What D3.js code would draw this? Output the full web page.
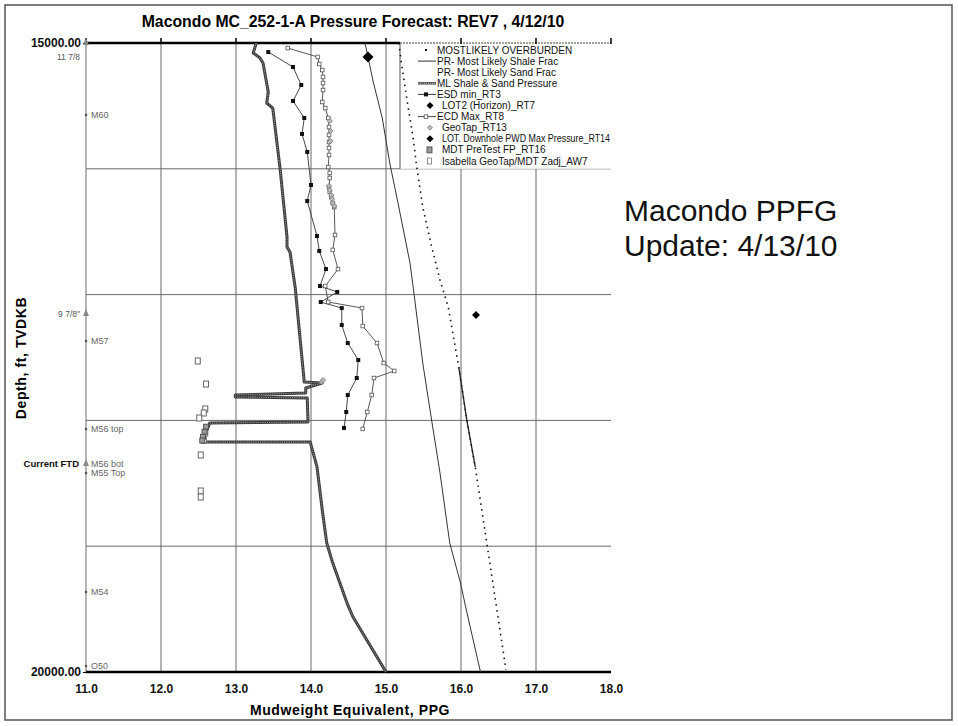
<!DOCTYPE html>
<html><head><meta charset="utf-8">
<script src="https://cdn.jsdelivr.net/npm/d3@7"></script>
<style>
body{margin:0;background:#fff;}
svg{display:block;font-family:"Liberation Sans",Arial,sans-serif;}
</style></head>
<body>
<svg id="c" width="958" height="726"></svg>
<script>
// ---------- DATA ----------
const title = "Macondo MC_252-1-A Pressure Forecast: REV7 , 4/12/10";
const xTicks = [11,12,13,14,15,16,17,18];
const yTicks = [15000,20000];
const yGrid = [16000,17000,18000,19000];

// [ppg, depth]
const overburden = [[15.17,15000],[15.2,15135],[15.28,15453],[15.36,15747],[15.41,15986],[15.49,16304],[15.61,16622],[15.72,16884],[15.83,17099],[15.97,17576],[16.08,18005],[16.19,18370],[16.35,18998],[16.6,19984]];
const shaleFrac = [[14.72,15000],[14.83,15310],[14.95,15596],[15.05,15954],[15.16,16272],[15.32,16749],[15.35,16884],[15.49,17544],[15.61,18005],[15.72,18418],[15.85,18975],[15.99,19285],[16.08,19531],[16.26,20000]];
const sandFrac = [[15.97,17576],[16.08,18005],[16.19,18370]];
const mlPressure = [[13.27,15000],[13.23,15079],[13.32,15119],[13.36,15159],[13.43,15390],[13.41,15477],[13.49,15517],[13.59,16010],[13.68,16542],[13.68,16622],[13.72,16661],[13.79,16948],[13.91,17695],[14.15,17703],[13.93,17742],[13.93,17782],[12.99,17798],[12.99,17814],[13.95,17822],[13.96,18013],[12.65,18021],[12.55,18172],[13.99,18172],[14.08,18370],[14.15,18712],[14.21,18975],[14.29,19134],[14.49,19467],[14.56,19563],[15.0,20000]];
const esdMin = [[13.43,15072],[13.76,15191],[13.87,15334],[13.76,15461],[13.91,15596],[13.88,15723],[13.95,15866],[14.0,16129],[13.95,16256],[14.08,16534],[14.11,16653],[14.2,16797],[14.12,16932],[14.35,16979],[14.13,17059],[14.41,17107],[14.41,17242],[14.49,17385],[14.63,17520],[14.61,17663],[14.49,17798],[14.47,17933],[14.44,18060]];
const lot2 = [[14.76,15111]];
const ecdMax = [[13.69,15040],[14.09,15111],[14.11,15167],[14.15,15215],[14.16,15270],[14.16,15318],[14.16,15374],[14.15,15469],[14.19,15517],[14.23,15596],[14.24,15668],[14.24,15731],[14.24,15787],[14.24,15835],[14.24,15890],[14.23,15986],[14.25,16033],[14.25,16073],[14.24,16145],[14.25,16184],[14.27,16224],[14.29,16272],[14.31,16304],[14.32,16526],[14.29,16645],[14.36,16797],[14.19,16932],[14.23,17059],[14.68,17107],[14.69,17250],[14.88,17385],[14.97,17544],[15.11,17607],[14.84,17663],[14.81,17798],[14.75,17933],[14.69,18068]];
const geoTap = [[14.25,15620],[14.26,15700],[14.26,15780],[14.24,16137],[14.25,16169],[14.27,16208],[14.28,16240],[14.29,16272],[14.31,16296],[14.14,17695],[14.16,17680]];
const lotDownhole = [[16.2,17162]];
const mdtPretest = [[12.6,18050],[12.58,18090],[12.56,18130],[12.55,18160]];
const isabella = [[12.49,17528],[12.6,17711],[12.59,17909],[12.57,17941],[12.51,17981],[12.59,18100],[12.57,18156],[12.53,18275],[12.53,18561],[12.53,18609]];

const formationTops = [["M60",15572],["M57",17369],["M56 top",18068],["M56 bot",18347],["M55 Top",18418],["M54",19364],["O50",19952]];
const casing = [["11 7/8",15000],["9 7/8\"",17154],["Current FTD",18347]];

const legendNames = ["MOSTLIKELY OVERBURDEN","PR- Most Likely Shale Frac","PR- Most Likely Sand Frac","ML Shale & Sand Pressure","ESD min_RT3","LOT2 (Horizon)_RT7","ECD Max_RT8","GeoTap_RT13","LOT. Downhole PWD Max Pressure_RT14","MDT PreTest FP_RT16","Isabella GeoTap/MDT Zadj_AW7"];

// ---------- CHART ----------
const svg = d3.select("#c");
const x = d3.scaleLinear().domain([11,18]).range([86,611]);
const y = d3.scaleLinear().domain([15000,20000]).range([43,672]);

// outer frame
svg.append("rect").attr("x",5).attr("y",5).attr("width",947).attr("height",715)
  .attr("fill","none").attr("stroke","#555").attr("stroke-width",1.5);

// title
svg.append("text").attr("x",353).attr("y",27).attr("text-anchor","middle")
  .attr("font-size",15.8).attr("font-weight","bold").text(title);

// vertical grid
svg.append("g").selectAll("line").data(xTicks.slice(1,-1)).join("line")
  .attr("x1",d=>x(d)).attr("x2",d=>x(d)).attr("y1",y(15000)).attr("y2",y(20000))
  .attr("stroke","#6a6a6a").attr("stroke-width",1);
// horizontal grid
svg.append("g").selectAll("line").data(yGrid).join("line")
  .attr("x1",x(11)).attr("x2",x(18)).attr("y1",d=>y(d)).attr("y2",d=>y(d))
  .attr("stroke","#6a6a6a").attr("stroke-width",1);
// left axis line
svg.append("line").attr("x1",x(11)).attr("x2",x(11)).attr("y1",y(15000)).attr("y2",y(20000))
  .attr("stroke","#6a6a6a");

// legend box (white)
const lgX0 = 400, lgY0 = y(15000), lgX1 = x(18), lgY1 = y(16000);
svg.append("rect").attr("x",lgX0).attr("y",lgY0).attr("width",lgX1-lgX0).attr("height",lgY1-lgY0)
  .attr("fill","#fff");
svg.append("line").attr("x1",lgX0).attr("x2",lgX0).attr("y1",lgY0).attr("y2",lgY1).attr("stroke","#555");

// bottom axis
const xAxis = d3.axisBottom(x).tickValues(xTicks).tickFormat(d3.format(".1f")).tickSize(0).tickPadding(12);
const gx = svg.append("g").attr("transform",`translate(0,${y(20000)})`).call(xAxis);
gx.select(".domain").remove();
gx.selectAll("text").attr("font-size",12).attr("font-weight","bold").attr("fill","#111")
  .attr("font-family","Liberation Sans, Arial, sans-serif");
svg.append("line").attr("x1",x(11)).attr("x2",x(18)).attr("y1",y(20000)).attr("y2",y(20000))
  .attr("stroke","#000").attr("stroke-width",2.5);

// top axis
svg.append("line").attr("x1",x(11)-2).attr("x2",lgX0).attr("y1",y(15000)).attr("y2",y(15000))
  .attr("stroke","#000").attr("stroke-width",2.5);
svg.append("line").attr("x1",lgX0).attr("x2",x(18)).attr("y1",y(15000)).attr("y2",y(15000))
  .attr("stroke","#444").attr("stroke-width",1.2).attr("stroke-dasharray","2,1");
svg.append("g").selectAll("line").data(xTicks).join("line")
  .attr("x1",d=>x(d)).attr("x2",d=>x(d)).attr("y1",y(15000)-5).attr("y2",y(15000)+1)
  .attr("stroke","#000").attr("stroke-width",1.5);

// y axis labels
const yAxis = d3.axisLeft(y).tickValues(yTicks).tickFormat(d3.format(".2f")).tickSize(3).tickPadding(2);
const gy = svg.append("g").attr("transform",`translate(${x(11)},0)`).call(yAxis);
gy.select(".domain").remove();
gy.selectAll("text").attr("font-size",12).attr("font-weight","bold").attr("fill","#111")
  .attr("font-family","Liberation Sans, Arial, sans-serif");

// axis titles
svg.append("text").attr("x",350).attr("y",715).attr("text-anchor","middle")
  .attr("font-size",14).attr("font-weight","bold").attr("letter-spacing",0.6).text("Mudweight Equivalent, PPG");
svg.append("text").attr("transform",`translate(26,${358}) rotate(-90)`).attr("text-anchor","middle")
  .attr("font-size",14).attr("font-weight","bold").attr("letter-spacing",0.6).text("Depth, ft, TVDKB");

// formation tops
const ft = svg.append("g");
ft.selectAll("circle").data(formationTops).join("circle")
  .attr("cx",x(11)).attr("cy",d=>y(d[1])).attr("r",1.3).attr("fill","#555");
ft.selectAll("text").data(formationTops).join("text")
  .attr("x",x(11)+5).attr("y",d=>y(d[1])+3).attr("font-size",9).attr("fill","#666").text(d=>d[0]);

// casing shoes
const cs = svg.append("g");
cs.selectAll("path").data(casing).join("path")
  .attr("d",d=>`M${x(11)},${y(d[1])-5}L${x(11)+3},${y(d[1])+2}L${x(11)-3},${y(d[1])+2}Z`)
  .attr("fill","#888");
cs.selectAll("text").data(casing).join("text")
  .attr("x",(d,i)=>x(11)-(i===2?7:6)).attr("y",(d,i)=>y(d[1])+(i===0?17:3))
  .attr("text-anchor","end")
  .attr("font-size",(d,i)=>i===2?9.5:8.5)
  .attr("font-weight",(d,i)=>i===2?"bold":"normal")
  .attr("fill",(d,i)=>i===2?"#111":"#555").text(d=>d[0]);

// ---------- SERIES ----------
const line = d3.line().x(d=>x(d[0])).y(d=>y(d[1]));
const plot = svg.append("g");

plot.append("path").attr("d",line(overburden)).attr("fill","none")
  .attr("stroke","#111").attr("stroke-width",1.6).attr("stroke-dasharray","1.5,4.5");
plot.append("path").attr("d",line(shaleFrac)).attr("fill","none")
  .attr("stroke","#333").attr("stroke-width",1);
plot.append("path").attr("d",line(sandFrac)).attr("fill","none")
  .attr("stroke","#222").attr("stroke-width",1.3);
plot.append("path").attr("d",line(mlPressure)).attr("fill","none")
  .attr("stroke","#3a3a3a").attr("stroke-width",3).attr("stroke-linejoin","round");
plot.append("path").attr("d",line(mlPressure)).attr("fill","none")
  .attr("stroke","#aaa").attr("stroke-width",1).attr("stroke-dasharray","1,1.2");

plot.append("path").attr("d",line(esdMin)).attr("fill","none").attr("stroke","#333").attr("stroke-width",0.9);
plot.append("g").selectAll("rect").data(esdMin).join("rect")
  .attr("x",d=>x(d[0])-2).attr("y",d=>y(d[1])-2).attr("width",4).attr("height",4).attr("fill","#111");

plot.append("path").attr("d",line(ecdMax)).attr("fill","none").attr("stroke","#444").attr("stroke-width",0.9);
plot.append("g").selectAll("rect").data(ecdMax).join("rect")
  .attr("x",d=>x(d[0])-1.8).attr("y",d=>y(d[1])-1.8).attr("width",3.6).attr("height",3.6)
  .attr("fill","#fff").attr("stroke","#555").attr("stroke-width",0.8);

const diamond = s => `M0,${-s}L${s},0L0,${s}L${-s},0Z`;
plot.append("g").selectAll("path").data(geoTap).join("path")
  .attr("transform",d=>`translate(${x(d[0])},${y(d[1])})`).attr("d",diamond(2.6))
  .attr("fill","#bbb").attr("stroke","#777").attr("stroke-width",0.8);

plot.append("g").selectAll("rect").data(isabella).join("rect")
  .attr("x",d=>x(d[0])-2.5).attr("y",d=>y(d[1])-3).attr("width",5).attr("height",6)
  .attr("fill","#fff").attr("stroke","#666").attr("stroke-width",1);
plot.append("g").selectAll("rect").data(mdtPretest).join("rect")
  .attr("x",d=>x(d[0])-2.5).attr("y",d=>y(d[1])-2.5).attr("width",5).attr("height",5)
  .attr("fill","#999").attr("stroke","#444").attr("stroke-width",0.8);

plot.append("g").selectAll("path").data(lot2).join("path")
  .attr("transform",d=>`translate(${x(d[0])},${y(d[1])})`).attr("d",diamond(5.5)).attr("fill","#000");
plot.append("g").selectAll("path").data(lotDownhole).join("path")
  .attr("transform",d=>`translate(${x(d[0])},${y(d[1])})`).attr("d",diamond(4)).attr("fill","#000");

// ---------- LEGEND ----------
const lg = svg.append("g");
const rowY = i => 50 + i*11.1;
legendNames.forEach((name,i)=>{
  const ry = rowY(i);
  const indent = [0,0,0,0,0,1,0,1,1,1,1][i];
  const t = lg.append("text").attr("x",indent?442:437).attr("y",ry+3.5).attr("font-size",10).attr("fill","#111").text(name);
  if(i===8) t.attr("textLength",168).attr("lengthAdjust","spacingAndGlyphs");
  const sx0=418, sx1=436, mx=426;
  if(i===0) lg.append("rect").attr("x",mx-1).attr("y",ry-1).attr("width",2).attr("height",2).attr("fill","#111");
  if(i===1) lg.append("line").attr("x1",sx0).attr("x2",sx1).attr("y1",ry).attr("y2",ry).attr("stroke","#333");
  if(i===3){
    lg.append("line").attr("x1",sx0).attr("x2",sx1).attr("y1",ry).attr("y2",ry).attr("stroke","#555").attr("stroke-width",2.6);
    lg.append("line").attr("x1",sx0).attr("x2",sx1).attr("y1",ry).attr("y2",ry).attr("stroke","#bbb").attr("stroke-width",1).attr("stroke-dasharray","1,1");
  }
  if(i===4){
    lg.append("line").attr("x1",sx0).attr("x2",sx1).attr("y1",ry).attr("y2",ry).attr("stroke","#333");
    lg.append("rect").attr("x",mx-2).attr("y",ry-2).attr("width",4).attr("height",4).attr("fill","#111");
  }
  if(i===5||i===8) lg.append("path").attr("transform",`translate(${mx+4},${ry})`).attr("d",diamond(3.5)).attr("fill","#000");
  if(i===6){
    lg.append("line").attr("x1",sx0).attr("x2",sx1).attr("y1",ry).attr("y2",ry).attr("stroke","#444");
    lg.append("rect").attr("x",mx-1.8).attr("y",ry-1.8).attr("width",3.6).attr("height",3.6).attr("fill","#fff").attr("stroke","#555").attr("stroke-width",0.8);
  }
  if(i===7) lg.append("path").attr("transform",`translate(${mx+4},${ry})`).attr("d",diamond(2.5)).attr("fill","#bbb").attr("stroke","#777").attr("stroke-width",0.8);
  if(i===9) lg.append("rect").attr("x",mx+1).attr("y",ry-3).attr("width",5).attr("height",6).attr("fill","#999").attr("stroke","#444").attr("stroke-width",0.8);
  if(i===10) lg.append("rect").attr("x",mx+1.5).attr("y",ry-3).attr("width",4).attr("height",6).attr("fill","#fff").attr("stroke","#777").attr("stroke-width",0.8);
});

// annotation
svg.append("text").attr("x",624).attr("y",221).attr("font-size",30).attr("fill","#111").text("Macondo PPFG");
svg.append("text").attr("x",624).attr("y",256).attr("font-size",30).attr("fill","#111").text("Update: 4/13/10");
</script>
</body></html>
